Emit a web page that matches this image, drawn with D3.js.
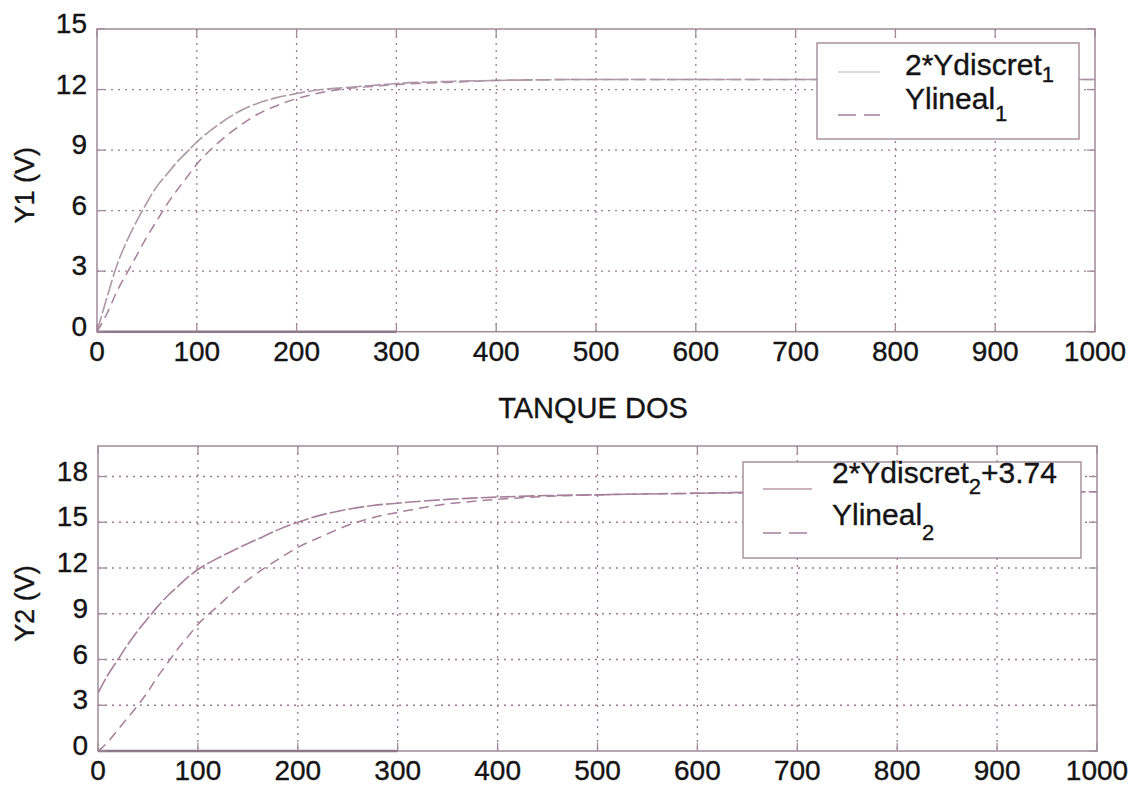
<!DOCTYPE html>
<html><head><meta charset="utf-8">
<script src="https://cdn.jsdelivr.net/npm/d3@7"></script>
<style>
body{margin:0;background:#fff;}
text{font-family:"Liberation Sans",Arial,sans-serif;fill:#141414;stroke:#141414;stroke-width:0.35px;}
</style>
</head><body>
<svg id="c" width="1139" height="787"></svg>
<script>
// ---------- data ----------
const xTicks = [0,100,200,300,400,500,600,700,800,900,1000];
const y1Ticks = [0,3,6,9,12,15];
const y2Ticks = [0,3,6,9,12,15,18];

const t1 = [0,10,20,30,40,50,60,70,80,90,100,120,140,160,180,200,225,250,275,300,350,400,500,600,700,800,900,1000];
const discret1 = [0,1.7,3.3,4.5,5.5,6.4,7.2,7.8,8.4,8.9,9.4,10.2,10.85,11.3,11.6,11.8,12.0,12.1,12.2,12.3,12.4,12.45,12.5,12.5,12.5,12.5,12.5,12.5];
const lineal1  = [0,0.9,2.0,2.9,3.8,4.7,5.5,6.3,7.0,7.65,8.3,9.3,10.1,10.75,11.2,11.55,11.85,12.05,12.15,12.25,12.35,12.45,12.5,12.5,12.5,12.5,12.5,12.5];

const t2 = [0,10,20,30,40,50,60,70,80,90,100,120,140,160,180,200,225,250,275,300,350,400,450,500,600,700,800,900,1000];
const discret2 = [3.8,5.0,6.0,7.0,7.9,8.7,9.5,10.2,10.8,11.4,11.9,12.65,13.3,13.9,14.5,15.0,15.5,15.85,16.1,16.25,16.5,16.65,16.75,16.8,16.9,17.0,17.0,17.0,17.0];
const lineal2  = [0,0.6,1.4,2.2,3.0,3.9,4.9,5.8,6.7,7.5,8.3,9.5,10.7,11.7,12.55,13.35,14.1,14.8,15.3,15.65,16.2,16.5,16.7,16.8,16.9,16.95,17.0,17.0,17.0];

const legend1 = [{name:"2*Ydiscret", sub:"1", after:""}, {name:"Ylineal", sub:"1", after:""}];
const legend2 = [{name:"2*Ydiscret", sub:"2", after:"+3.74"}, {name:"Ylineal", sub:"2", after:""}];
const darkSpan = [0, 300];
const titleText = "TANQUE DOS";

// ---------- styles ----------
const axisColor = "#a08a99";
const gridColor = "#9f7894";
const lineColor = "#a67f9c";

const svg = d3.select("#c");

const panels = [
  {t:t1, discret:discret1, lineal:lineal1, yTicks:y1Ticks, yMax:15,
   left:97, right:1095, top:29, bottom:331.7, ylabel:"Y1 (V)",
   discretColor:"#ad98a7", legendSolidColor:"#d3cbd0",
   legend:legend1, lg:{x0:817,x1:1079,y0:43,y1:139, sx0:838, sx1:880, tx:905, rows:[{ty:75, ly:72, sub:7},{ty:109, ly:115, sub:12}]}},
  {t:t2, discret:discret2, lineal:lineal2, yTicks:y2Ticks, yMax:20,
   left:98, right:1097, top:446, bottom:751, ylabel:"Y2 (V)",
   discretColor:lineColor, legendSolidColor:"#b898ae",
   legend:legend2, lg:{x0:743,x1:1081,y0:462,y1:558, sx0:763, sx1:812, tx:832, rows:[{ty:483, ly:489, sub:11},{ty:525, ly:533, sub:15}]}}
];

panels.forEach((p, pi) => {
  const x = d3.scaleLinear().domain([0,1000]).range([p.left, p.right]);
  const y = d3.scaleLinear().domain([0,p.yMax]).range([p.bottom, p.top]);
  const g = svg.append("g");

  // grid
  g.selectAll(".vg").data(xTicks.filter(d => d>0 && d<1000)).enter().append("line")
    .attr("x1", d=>x(d)).attr("x2", d=>x(d)).attr("y1", p.top).attr("y2", p.bottom)
    .attr("stroke", gridColor).attr("stroke-width", 1.3).attr("stroke-dasharray", "2,5");
  g.selectAll(".hg").data(p.yTicks.filter(d => d>0 && d<p.yMax)).enter().append("line")
    .attr("x1", p.left).attr("x2", p.right).attr("y1", d=>y(d)).attr("y2", d=>y(d))
    .attr("stroke", gridColor).attr("stroke-width", 1.3).attr("stroke-dasharray", "2,5");

  // curves
  const clipId = "clip"+pi;
  svg.append("clipPath").attr("id", clipId).append("rect")
    .attr("x", p.left).attr("y", p.top).attr("width", p.right-p.left).attr("height", p.bottom-p.top);
  const line = d3.line().x((d,i)=>x(p.t[i])).y(d=>y(d)).curve(d3.curveMonotoneX);
  g.append("path").datum(p.lineal).attr("d", line).attr("clip-path", `url(#${clipId})`)
    .attr("fill","none").attr("stroke", lineColor).attr("stroke-width", 1.5).attr("stroke-dasharray","10,6");
  g.append("path").datum(p.discret).attr("d", line).attr("clip-path", `url(#${clipId})`)
    .attr("fill","none").attr("stroke", p.discretColor).attr("stroke-width", 1.6).attr("stroke-dasharray","16,3");

  // box
  g.append("rect").attr("x", p.left).attr("y", p.top).attr("width", p.right-p.left).attr("height", p.bottom-p.top)
    .attr("fill","none").attr("stroke", axisColor).attr("stroke-width", 1.5);
  // darker scanned segment of bottom axis
  g.append("line").attr("x1", x(darkSpan[0])).attr("x2", x(darkSpan[1]))
    .attr("y1", p.bottom).attr("y2", p.bottom).attr("stroke", "#8c7888").attr("stroke-width", 2.5);

  // ticks (inward, on all four sides)
  const tl = 8;
  xTicks.forEach(d => {
    g.append("line").attr("x1", x(d)).attr("x2", x(d)).attr("y1", p.bottom).attr("y2", p.bottom-tl).attr("stroke", axisColor).attr("stroke-width",1.3);
    g.append("line").attr("x1", x(d)).attr("x2", x(d)).attr("y1", p.top).attr("y2", p.top+tl).attr("stroke", axisColor).attr("stroke-width",1.3);
  });
  p.yTicks.forEach(d => {
    g.append("line").attr("x1", p.left).attr("x2", p.left+tl).attr("y1", y(d)).attr("y2", y(d)).attr("stroke", axisColor).attr("stroke-width",1.3);
    g.append("line").attr("x1", p.right).attr("x2", p.right-tl).attr("y1", y(d)).attr("y2", y(d)).attr("stroke", axisColor).attr("stroke-width",1.3);
  });

  // tick labels
  g.selectAll(".xl").data(xTicks).enter().append("text")
    .attr("x", d=>x(d)).attr("y", p.bottom+29).attr("text-anchor","middle")
    .style("font-size","28px").text(d=>d);
  g.selectAll(".yl").data(p.yTicks).enter().append("text")
    .attr("x", p.left-10).attr("y", d=>y(d)+4).attr("text-anchor","end")
    .style("font-size","28px").text(d=>d);

  // y label
  const cy = (p.top+p.bottom)/2 + 5;
  g.append("text").attr("transform", `translate(34,${cy}) rotate(-90)`)
    .attr("text-anchor","middle").style("font-size","27px").text(p.ylabel);

  // legend
  const L = p.lg;
  g.append("rect").attr("x", L.x0).attr("y", L.y0).attr("width", L.x1-L.x0).attr("height", L.y1-L.y0)
    .attr("fill","#fff").attr("stroke", axisColor).attr("stroke-width",1.4);
  p.legend.forEach((item, i) => {
    const r = L.rows[i];
    g.append("line").attr("x1", L.sx0).attr("x2", L.sx1).attr("y1", r.ly).attr("y2", r.ly)
      .attr("stroke", i===0 ? p.legendSolidColor : lineColor).attr("stroke-width",1.5)
      .attr("stroke-dasharray", i===0 ? null : "18,8");
    const tx = g.append("text").attr("x", L.tx).attr("y", r.ty).style("font-size","30px");
    tx.append("tspan").text(item.name);
    tx.append("tspan").attr("dy", r.sub).style("font-size","22px").text(item.sub);
    if (item.after) tx.append("tspan").attr("dy", -r.sub).text(item.after);
  });
});

// title of second panel
svg.append("text").attr("x", 593).attr("y", 418).attr("text-anchor","middle")
  .style("font-size","29px").text(titleText);
</script>
</body></html>
